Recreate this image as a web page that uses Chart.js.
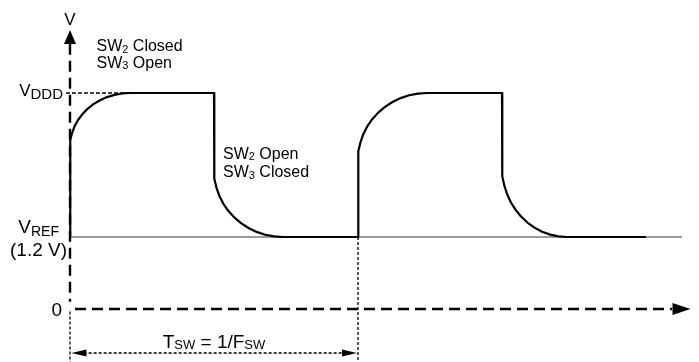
<!DOCTYPE html>
<html><head><meta charset="utf-8">
<script src="https://cdn.jsdelivr.net/npm/chart.js@4/dist/chart.umd.min.js"></script>
<style>html,body{margin:0;padding:0;background:#fff}canvas{display:block}</style>
</head><body>
<canvas id="c" width="699" height="362"></canvas>
<script>
// ---- Data: time t in switching periods (T_SW = 1), voltage v in volts ----
const V_REF = 1.2;
const V_DDD = 3.6;

// Output waveform (two switching periods)
const waveT = [0, 0, 0.0018, 0.0071, 0.0159, 0.0279, 0.0431, 0.0610, 0.0815, 0.1042, 0.1286, 0.1544, 0.1811, 0.2083,
  0.5, 0.5, 0.5021, 0.5082, 0.5182, 0.5321, 0.5495, 0.5702, 0.5938, 0.6198, 0.6479, 0.6776, 0.7083, 0.7396,
  1.0, 1.0, 1.0021, 1.0082, 1.0182, 1.0321, 1.0495, 1.0702, 1.0938, 1.1198, 1.1479, 1.1776, 1.2083, 1.2396,
  1.5, 1.5, 1.5019, 1.5077, 1.5172, 1.5302, 1.5466, 1.5661, 1.5883, 1.6128, 1.6393, 1.6673, 1.6963, 1.7257,
  2.0];
const waveV = [1.2, 2.7, 2.8175, 2.933, 3.0443, 3.15, 3.2478, 3.3363, 3.414, 3.4795, 3.5315, 3.5693, 3.5923, 3.6,
  3.6, 2.3167, 2.1708, 2.0277, 1.8893, 1.7583, 1.6368, 1.527, 1.4308, 1.3497, 1.285, 1.238, 1.2095, 1.2,
  1.2, 2.4833, 2.6292, 2.7723, 2.9107, 3.0417, 3.1632, 3.273, 3.3692, 3.4503, 3.515, 3.562, 3.5905, 3.6,
  3.6, 2.3667, 2.2143, 2.0647, 1.9202, 1.7833, 1.6565, 1.5417, 1.4412, 1.3563, 1.2888, 1.2397, 1.21, 1.2,
  1.2];

// Reference level line
const vrefT = [0, 2.125];
const vrefV = [V_REF, V_REF];

// V_DDD guide
const vdddT = [-0.014, 0.2083];
const vdddV = [V_DDD, V_DDD];

// Axes
const yAxisT = [0, 0];
const yAxisV = [4.42, 0.12];
const xAxisT = [0.0174, 2.0903];
const xAxisV = [0, 0];

// Period marker (T_SW = 1/F_SW) from t = 0 to t = 1
const periodStart = 0;
const periodEnd = 1;

// Tick / annotation labels
const yTickLabels = ['0', 'V|REF', '(1.2 V)', 'V|DDD'];
const axisLabel = 'V';
const phase1Labels = ['SW|2| Closed', 'SW|3| Open'];
const phase2Labels = ['SW|2| Open', 'SW|3| Closed'];
const periodLabel = 'T|SW| = 1/F|SW';

const pts = (ts, vs) => ts.map((t, i) => ({x: t, y: vs[i]}));

const FONT = '"Liberation Sans", Arial, sans-serif';

// rich text: segments separated by '|' alternate normal / subscript
function drawRich(ctx, x, y, str, size, subSize, subDy, align) {
  const segs = str.split('|');
  let total = 0;
  const w = segs.map((s, i) => {
    ctx.font = (i % 2 ? subSize : size) + 'px ' + FONT;
    const m = ctx.measureText(s).width; total += m; return m;
  });
  let cx = align === 'right' ? x - total : align === 'center' ? x - total / 2 : x;
  segs.forEach((s, i) => {
    ctx.font = (i % 2 ? subSize : size) + 'px ' + FONT;
    ctx.fillText(s, cx, y + (i % 2 ? subDy : 0));
    cx += w[i];
  });
}

function arrow(ctx, x, y, dir, len, wid) {
  ctx.beginPath();
  if (dir === 'up') { ctx.moveTo(x, y); ctx.lineTo(x - wid / 2, y + len); ctx.lineTo(x + wid / 2, y + len); }
  if (dir === 'right') { ctx.moveTo(x, y); ctx.lineTo(x - len, y - wid / 2); ctx.lineTo(x - len, y + wid / 2); }
  if (dir === 'left') { ctx.moveTo(x, y); ctx.lineTo(x + len, y - wid / 2); ctx.lineTo(x + len, y + wid / 2); }
  ctx.closePath(); ctx.fill();
}

const annot = {
  id: 'annot',
  afterDatasetsDraw(chart) {
    const {ctx, scales: {x, y}} = chart;
    const X = t => x.getPixelForValue(t), Y = v => y.getPixelForValue(v);
    ctx.save();
    ctx.fillStyle = '#000';
    ctx.textBaseline = 'alphabetic';
    // arrowheads
    arrow(ctx, X(0), Y(4.65), 'up', 14, 12);
    arrow(ctx, X(2.1545), Y(0), 'right', 18, 12);
    arrow(ctx, X(periodStart + 0.005), Y(-0.7333), 'left', 15, 7);
    arrow(ctx, X(periodEnd - 0.0035), Y(-0.7333), 'right', 15, 7);
    // axis labels
    drawRich(ctx, X(0), Y(4.7333), axisLabel, 17, 12, 0, 'center');
    drawRich(ctx, X(-0.0278), Y(-0.1167), yTickLabels[0], 19, 13, 0, 'right');
    drawRich(ctx, X(-0.0382), Y(1.2667), yTickLabels[1], 19, 14, 3, 'right');
    drawRich(ctx, X(-0.0104), Y(0.8833), yTickLabels[2], 19, 14, 0, 'right');
    drawRich(ctx, X(-0.0243), Y(3.55), yTickLabels[3], 17, 15, 3, 'right');
    // phase annotations
    drawRich(ctx, X(0.092), Y(4.3), phase1Labels[0], 16, 11, 1.5, 'left');
    drawRich(ctx, X(0.092), Y(4.0167), phase1Labels[1], 16, 11, 1.5, 'left');
    drawRich(ctx, X(0.5313), Y(2.5083), phase2Labels[0], 16, 11, 1.5, 'left');
    drawRich(ctx, X(0.5313), Y(2.2), phase2Labels[1], 16, 11, 1.5, 'left');
    // period label
    drawRich(ctx, X((periodStart + periodEnd) / 2), Y(-0.65), periodLabel, 19, 13, 1, 'center');
    ctx.restore();
  }
};

const base = {showLine: true, pointRadius: 0, fill: false, tension: 0, borderCapStyle: 'butt'};

new Chart(document.getElementById('c'), {
  type: 'scatter',
  data: {
    datasets: [
      {...base, label: 'Output', data: pts(waveT, waveV), borderColor: '#000', borderWidth: 2.2, borderJoinStyle: 'round'},
      {...base, label: 'V_REF', data: pts(vrefT, vrefV), borderColor: '#7a7a7a', borderWidth: 1.6},
      {...base, label: 'V_DDD guide', data: pts(vdddT, vdddV), borderColor: '#000', borderWidth: 1.4, borderDash: [4, 2]},
      {...base, label: 'y axis', data: pts(yAxisT, yAxisV), borderColor: '#000', borderWidth: 2.4, borderDash: [11, 6]},
      {...base, label: 'x axis', data: pts(xAxisT, xAxisV), borderColor: '#000', borderWidth: 2.4, borderDash: [11, 6]},
      {...base, label: 'start mark', data: pts([periodStart, periodStart], [-0.04, -0.95]), borderColor: '#000', borderWidth: 1.3, borderDash: [3, 2]},
      {...base, label: 'end mark', data: pts([periodEnd, periodEnd], [V_REF, -0.95]), borderColor: '#000', borderWidth: 1.3, borderDash: [3, 2]},
      {...base, label: 'period', data: pts([periodStart + 0.03, periodEnd - 0.03], [-0.7333, -0.7333]), borderColor: '#000', borderWidth: 1.4, borderDash: [3, 2]}
    ]
  },
  options: {
    responsive: false,
    animation: false,
    layout: {padding: 0},
    plugins: {legend: {display: false}, tooltip: {enabled: false}},
    scales: {
      x: {type: 'linear', display: false, min: -70 / 288, max: 629 / 288},
      y: {type: 'linear', display: false, min: -53 / 60, max: 309 / 60}
    }
  },
  plugins: [annot]
});
</script>
</body></html>
